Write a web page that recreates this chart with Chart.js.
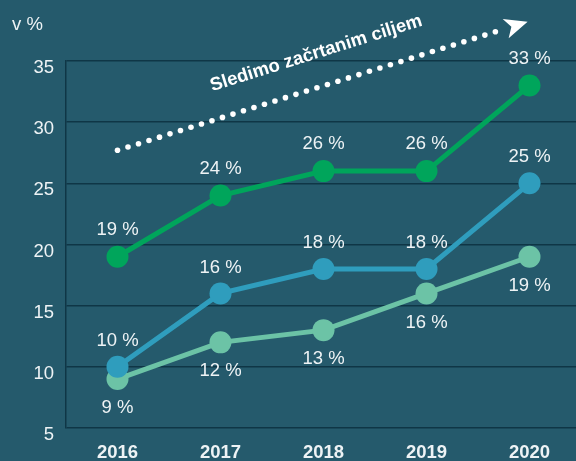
<!DOCTYPE html>
<html>
<head>
<meta charset="utf-8">
<script src="https://cdn.jsdelivr.net/npm/chart.js@4/dist/chart.umd.min.js"></script>
<style>
  html, body { margin: 0; padding: 0; background: #255a6c; overflow: hidden; }
  #wrap { position: relative; width: 581px; height: 461px; }
  #unit { position: absolute; left: 12px; top: 13px; color: #eef3f5; font: 18.5px "Liberation Sans", Arial, sans-serif; }
</style>
</head>
<body>
<div id="wrap">
  <canvas id="chart"></canvas>
  <div id="unit">v %</div>
</div>
<script>
const years = ['2016', '2017', '2018', '2019', '2020'];
const goalSeries = [19, 24, 26, 26, 33];
const midSeries = [10, 16, 18, 18, 25];
const lowSeries = [9, 12, 13, 16, 19];
const yTicks = [5, 10, 15, 20, 25, 30, 35];
const arrowText = 'Sledimo začrtanim ciljem';

const gridColor = '#0f3646';
const textColor = '#eef3f5';
const font = '"Liberation Sans", Arial, sans-serif';

// labels above or below each point
const labelOffsets = [-27, -26, 29];

const pointLabels = {
    id: 'pointLabels',
    afterDatasetsDraw(chart) {
        const ctx = chart.ctx;
        ctx.save();
        ctx.font = '18.5px ' + font;
        ctx.fillStyle = textColor;
        ctx.textAlign = 'center';
        ctx.textBaseline = 'middle';
        chart.data.datasets.forEach((ds, i) => {
            chart.getDatasetMeta(i).data.forEach((pt, j) => {
                ctx.fillText(ds.data[j] + ' %', pt.x, pt.y + labelOffsets[i]);
            });
        });
        ctx.restore();
    }
};

// dotted arrow with text, anchored to the scales
const goalArrow = {
    id: 'goalArrow',
    afterDraw(chart) {
        const x = chart.scales.x, y = chart.scales.y;
        const ctx = chart.ctx;
        const x0 = x.getPixelForValue(0), y0 = y.getPixelForValue(27.7);
        const x1 = x.getPixelForValue(3.75), y1 = y.getPixelForValue(37.6);
        const dx = x1 - x0, dy = y1 - y0;
        const len = Math.sqrt(dx * dx + dy * dy);
        const ang = Math.atan2(dy, dx);
        ctx.save();
        ctx.fillStyle = '#ffffff';
        const step = 11;
        for (let d = 0; d <= len; d += step) {
            ctx.beginPath();
            ctx.arc(x0 + Math.cos(ang) * d, y0 + Math.sin(ang) * d, 2.8, 0, Math.PI * 2);
            ctx.fill();
        }
        // arrow head
        ctx.translate(x1, y1);
        ctx.rotate(ang);
        ctx.beginPath();
        ctx.moveTo(25, 0);
        ctx.lineTo(2, -10);
        ctx.lineTo(8, 0);
        ctx.lineTo(2, 10);
        ctx.closePath();
        ctx.fill();
        ctx.restore();

        ctx.save();
        const mx = x0 + dx * 0.54, my = y0 + dy * 0.54;
        ctx.translate(mx, my);
        ctx.rotate(ang);
        ctx.font = 'bold 18.5px ' + font;
        ctx.textAlign = 'center';
        ctx.textBaseline = 'middle';
        ctx.fillStyle = '#ffffff';
        ctx.fillText(arrowText, 0, -33);
        ctx.restore();
    }
};

function lineSet(data, color) {
    return {
        data: data,
        borderColor: color,
        backgroundColor: color,
        pointBackgroundColor: color,
        borderWidth: 5,
        pointRadius: 11,
        pointBorderWidth: 0,
        pointHoverRadius: 11,
        tension: 0,
        clip: false
    };
}

new Chart(document.getElementById('chart'), {
    type: 'line',
    data: {
        labels: years,
        datasets: [
            lineSet(goalSeries, '#00a55b'),
            lineSet(midSeries, '#2f9dbd'),
            lineSet(lowSeries, '#6cc3a6')
        ]
    },
    options: {
        responsive: true,
        maintainAspectRatio: false,
        animation: false,
        events: [],
        layout: { autoPadding: false, padding: { top: 61, right: 0, left: 0, bottom: 0 } },
        plugins: { legend: { display: false }, tooltip: { enabled: false } },
        scales: {
            x: {
                offset: true,
                grid: { display: false, drawTicks: false },
                border: { display: false },
                ticks: { color: textColor, font: { family: font, size: 18.5, weight: 'bold' }, padding: 14 },
                afterFit: s => { s.height = 33; }
            },
            y: {
                min: 5,
                max: 35,
                afterBuildTicks: s => { s.ticks = yTicks.map(v => ({ value: v })); },
                grid: { color: gridColor, lineWidth: 1.5, drawTicks: false },
                border: { display: true, color: gridColor, width: 1.5 },
                ticks: { color: textColor, font: { family: font, size: 18.5 }, padding: 12, labelOffset: 7 },
                afterFit: s => { s.width = 66; }
            }
        }
    },
    plugins: [pointLabels, goalArrow]
});
</script>
</body>
</html>
